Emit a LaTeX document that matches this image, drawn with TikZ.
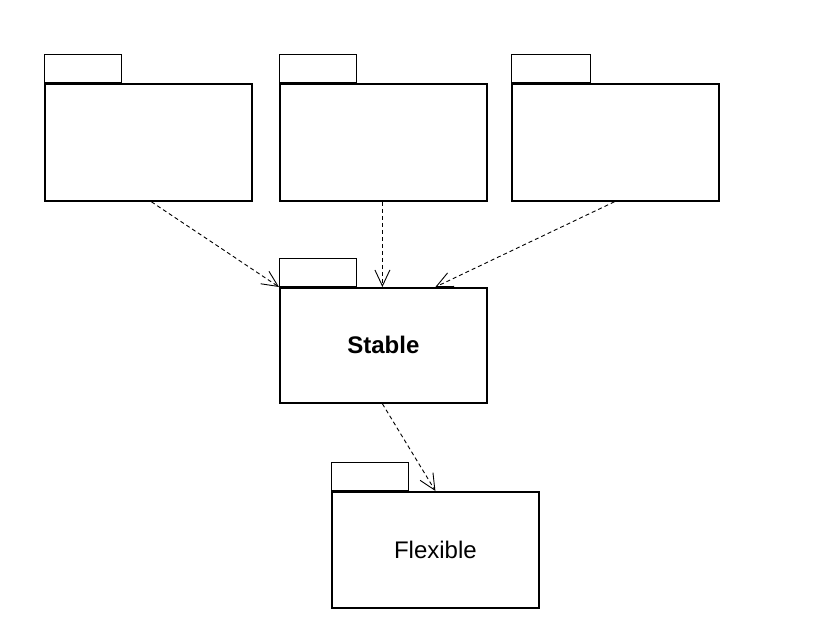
\documentclass[tikz,border=0pt]{standalone}
\usepackage{fontspec}
\setmainfont{Liberation Sans}
\usetikzlibrary{arrows.meta,calc}
\begin{document}
\begin{tikzpicture}[x=1pt,y=-1pt,
  body/.style={draw,line width=1.8pt,minimum width=207pt,minimum height=117pt,inner sep=0pt,anchor=north west,font=\fontsize{24}{28}\selectfont},
  tab/.style={draw,line width=1.2pt,minimum width=77pt,minimum height=28pt,inner sep=0pt,anchor=south west},
  dep/.style={draw,line width=0.9pt,dash pattern=on 4pt off 3pt,-{Straight Barb[length=16pt,width=15pt,line width=0.9pt]}}]
\useasboundingbox (0,0) rectangle (818,640);
\node[body] (p1) at (44,83) {};
\node[tab] (t1) at (p1.north west) {};
\node[body] (p2) at (279,83) {};
\node[tab] (t2) at (p2.north west) {};
\node[body] (p3) at (511,83) {};
\node[tab,minimum width=79pt] (t3) at (p3.north west) {};
\node[body,minimum height=115pt] (st) at (279,287) {\textbf{Stable}};
\node[tab] (t4) at (st.north west) {};
\node[body,minimum height=116pt] (fl) at (331,491) {Flexible};
\node[tab] (t5) at (fl.north west) {};
\coordinate (e3) at ($(st.north)+(52,0)$);
\draw[dep] ($(p1.south)+(3,0)$) -- (st.north west);
\draw[dep] ($(p2.south)+(-1,0)$) -- ($(st.north)+(-1,0)$);
\draw[dep] ($(p3.south)+(-1,0)$) -- (e3);
\draw[dep] ($(st.south)+(-1,0)$) -- (fl.north);
\end{tikzpicture}
\end{document}
